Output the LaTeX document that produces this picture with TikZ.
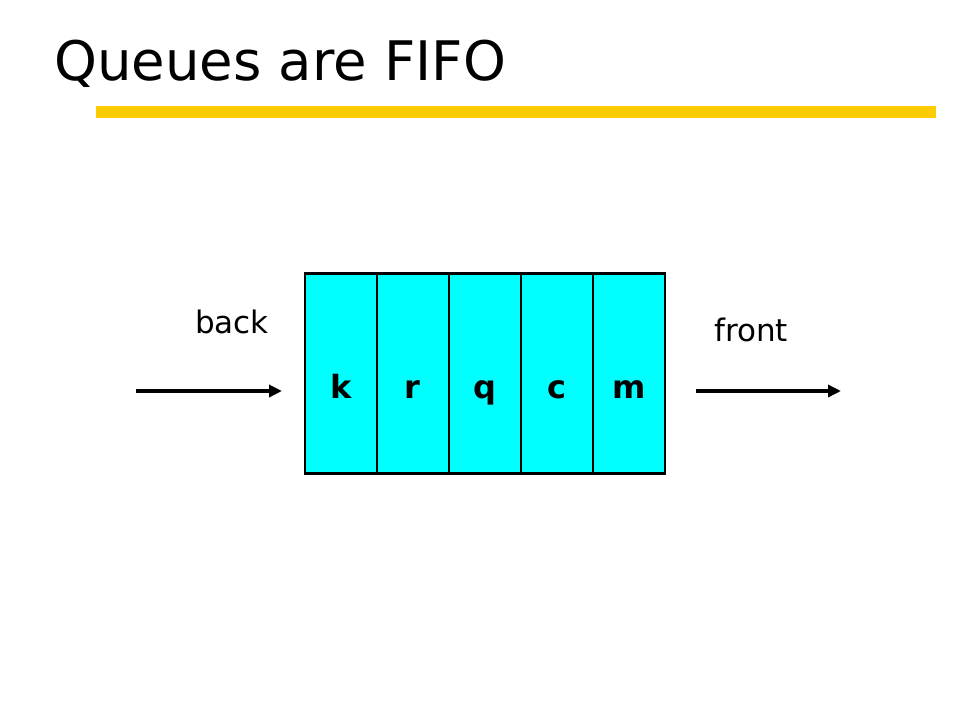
\documentclass[tikz,border=0pt]{standalone}
\usepackage{fontspec}
\setmainfont{DejaVu Sans}
\usetikzlibrary{arrows.meta}
\definecolor{baryellow}{HTML}{FFCC00}
\definecolor{cellcyan}{HTML}{00FFFF}
\begin{document}
\begin{tikzpicture}[x=1pt,y=-1pt,
  cell/.style={draw=black,line width=2.5pt,fill=cellcyan,minimum width=72pt,minimum height=200pt,inner sep=0pt,text height=50pt,text depth=0pt,anchor=north west,font=\fontsize{32}{36}\selectfont\bfseries},
  lbl/.style={font=\fontsize{31}{36}\selectfont,inner sep=0pt,anchor=base west},
  arr/.style={line width=3.3pt,-{Triangle[length=13pt,width=12pt]}}]
\useasboundingbox (0,0) rectangle (960,720);
\node[anchor=base west,inner sep=0pt,font=\fontsize{54.5}{60}\selectfont] (title) at (54,80) {Queues are FIFO};
\fill[baryellow] (96,106) rectangle (936,118);
\node[cell] (c1) at (303.5,272) {k};
\node[cell] (c2) at (375.5,272) {r};
\node[cell] (c3) at (447.5,272) {q};
\node[cell] (c4) at (519.5,272) {c};
\node[cell] (c5) at (591.5,272) {m};
\node[lbl] (back) at (195,333) {back};
\node[lbl] (front) at (714,341) {front};
\coordinate (inS) at (136,391);
\coordinate (inE) at (282,391);
\coordinate (outS) at (696,391);
\coordinate (outE) at (841,391);
\draw[arr] (inS) -- (inE);
\draw[arr] (outS) -- (outE);
\end{tikzpicture}
\end{document}
